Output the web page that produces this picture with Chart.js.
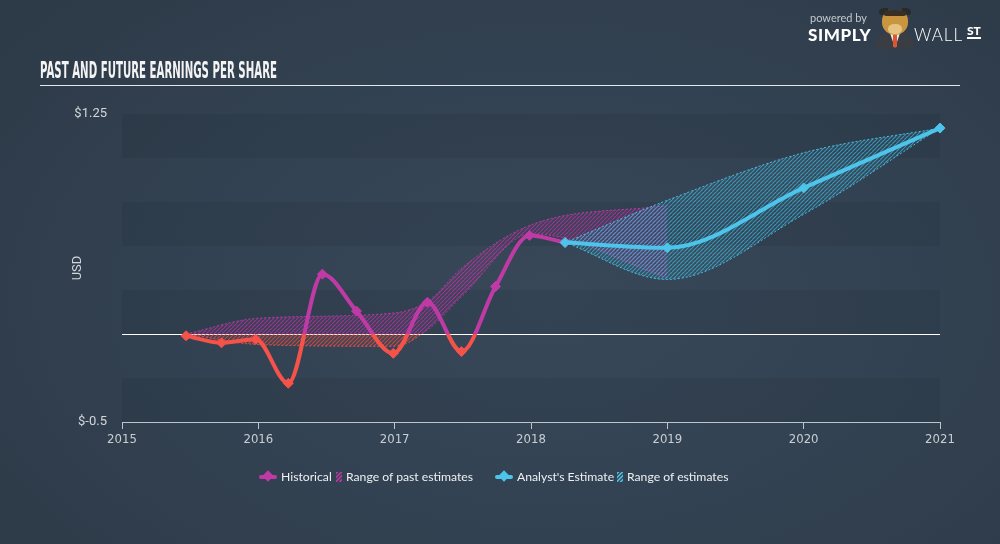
<!DOCTYPE html>
<html>
<head>
<meta charset="utf-8">
<script src="https://cdn.jsdelivr.net/npm/chart.js@4.4.1/dist/chart.umd.min.js"></script>
<style>
  html, body { margin: 0; padding: 0; }
  body {
    width: 1000px; height: 544px; overflow: hidden; position: relative;
    background: radial-gradient(ellipse 70% 80% at 55% 55%, #384858 0%, #334252 50%, #2d3a48 100%);
    font-family: Lato, "Open Sans", sans-serif; color: #fff;
  }
  #wrap { position: absolute; left: 0; top: 0; width: 1000px; height: 544px; }
  .title {
    position: absolute; left: 40px; top: 57px; white-space: nowrap;
    font-family: "Liberation Sans Narrow", "DejaVu Sans Condensed", "Liberation Sans", sans-serif;
    font-weight: bold; font-size: 23px; color: #f3f3f3; transform-origin: 0 0;
  }
  .rule { position: absolute; left: 40px; top: 85px; width: 920px; height: 1px; background: #e4e7ea; }
  .legend span { position: absolute; top: 469px; font-size: 12.2px; color: #eef0f2; white-space: nowrap; }
  .mark { position: absolute; top: 475px; width: 18px; height: 4px; border-radius: 2px; }
  .mark i { position: absolute; left: 5px; top: -3px; width: 8px; height: 8px; transform: rotate(45deg); background: inherit; }
  .hatch { position: absolute; top: 472px; width: 6px; height: 10px; }
  .logo { position: absolute; white-space: nowrap; }
</style>
</head>
<body>
<div id="wrap"><canvas id="epsChart" width="1000" height="544"></canvas></div>

<div class="title" id="title">PAST AND FUTURE EARNINGS PER SHARE</div>
<div class="rule"></div>

<div class="logo" style="left:810px; top:11px; font-size:11px; color:#c3c9cf;">powered by</div>
<div class="logo" style="left:808px; top:24px; font-size:17px; font-weight:900; letter-spacing:0.6px; color:#fff;">SIMPLY</div>
<div class="logo" style="left:914px; top:24px; font-size:17px; font-weight:300; letter-spacing:1px; color:#fff;">WALL</div>
<div class="logo" style="left:967px; top:24px; font-size:12px; font-weight:900; color:#fff; border-bottom:2px solid #fff; line-height:13px;">ST</div>
<!-- bull mascot -->
<div class="logo" style="left:876px; top:31px; width:38px; height:18px; background:#3a3e44; border-radius:16px 16px 3px 3px;"></div>
<div class="logo" style="left:890px; top:33px; width:10px; height:15px; background:#eeeeee; clip-path:polygon(0 0,100% 0,50% 100%);"></div>
<div class="logo" style="left:893px; top:35px; width:4px; height:12px; background:#e0552b;"></div>
<div class="logo" style="left:879px; top:8px; width:9px; height:7px; background:#2a2a2a; border-radius:60% 0 60% 40%;"></div>
<div class="logo" style="left:902px; top:8px; width:9px; height:7px; background:#2a2a2a; border-radius:0 60% 40% 60%;"></div>
<div class="logo" style="left:882px; top:10px; width:26px; height:25px; background:#c9953f; border-radius:42% 42% 50% 50%;"></div>
<div class="logo" style="left:884px; top:10px; width:22px; height:6px; background:#3a2f25; border-radius:40% 40% 20% 20%;"></div>
<div class="logo" style="left:888px; top:24px; width:14px; height:10px; background:#e6c283; border-radius:45%;"></div>

<div class="legend">
  <div class="mark" style="left:259px; background:#c03aa6;"><i></i></div>
  <span style="left:281px;">Historical</span>
  <div class="hatch" style="left:336px; background:repeating-linear-gradient(135deg, rgba(192,58,166,0.9) 0 1.5px, rgba(192,58,166,0.2) 1.5px 3px);"></div>
  <span style="left:346px;">Range of past estimates</span>
  <div class="mark" style="left:495px; background:#4dc4ea;"><i></i></div>
  <span style="left:517px;">Analyst's Estimate</span>
  <div class="hatch" style="left:617px; background:repeating-linear-gradient(135deg, rgba(77,196,234,0.9) 0 1.5px, rgba(77,196,234,0.2) 1.5px 3px);"></div>
  <span style="left:627px;">Range of estimates</span>
</div>

<script>
// historical EPS (fractional year, USD)
var histYears = [2015.47, 2015.73, 2015.98, 2016.22, 2016.47, 2016.72, 2016.99, 2017.24, 2017.49, 2017.74, 2017.99, 2018.25];
var histEps = [-0.01, -0.05, -0.03, -0.28, 0.34, 0.13, -0.11, 0.18, -0.10, 0.27, 0.56, 0.52];

// range of past estimates
var pastRangeYears = [2015.47, 2016.0, 2017.0, 2017.25, 2017.5, 2018.0, 2019.0];
var pastRangeHigh = [0, 0.09, 0.12, 0.19, 0.38, 0.62, 0.73];
var pastRangeLow = [0, -0.06, -0.07, 0.03, 0.22, 0.57, 0.32];

// analyst estimate and its range
var estYears = [2018.25, 2019, 2020, 2021];
var estEps = [0.52, 0.49, 0.83, 1.17];
var estHigh = [0.52, 0.76, 1.03, 1.17];
var estLow = [0.52, 0.31, 0.68, 1.17];

// axis labels
var yLabelValues = [1.25, -0.5];
var yLabelText = ['$1.25', '$-0.5'];

var purple = '#c03aa6';
var red = '#f5524a';
var blue = '#4dc4ea';

function points(xs, ys) {
    return xs.map(function(x, i) { return {x: x, y: ys[i]}; });
}

// vertical colour split at y = 0
function zeroSplit(ctx, above, below) {
    var chart = ctx.chart;
    var area = chart.chartArea;
    if (!area) {
        return above;
    }
    var y0 = chart.scales.y.getPixelForValue(0);
    var t = (y0 - area.top) / (area.bottom - area.top);
    var g = chart.ctx.createLinearGradient(0, area.top, 0, area.bottom);
    g.addColorStop(0, above);
    g.addColorStop(t, above);
    g.addColorStop(t, below);
    g.addColorStop(1, below);
    return g;
}

// diagonal hatch tile as tall as the canvas, so the colour can change at y = 0
var patterns = {};
function drawHatch(cx, p, h, top, bottom, line, tint) {
    cx.save();
    cx.beginPath();
    cx.rect(0, top, p, bottom - top);
    cx.clip();
    cx.fillStyle = tint;
    cx.fillRect(0, top, p, bottom - top);
    cx.strokeStyle = line;
    cx.lineWidth = 1.2;
    for (var k = 0; k <= h + p; k += p) {
        cx.beginPath();
        cx.moveTo(k, 0);
        cx.lineTo(k - h, h);
        cx.stroke();
    }
    cx.restore();
}

function hatch(ctx, above, below) {
    var chart = ctx.chart;
    if (!chart.chartArea) {
        return 'rgba(0,0,0,0)';
    }
    var h = chart.height;
    var y0 = chart.scales.y.getPixelForValue(0);
    var key = above.join() + below.join() + h + '_' + y0;
    if (patterns[key]) {
        return patterns[key];
    }
    var p = 4;
    var c = document.createElement('canvas');
    c.width = p;
    c.height = h;
    var cx = c.getContext('2d');
    drawHatch(cx, p, h, 0, y0, above[0], above[1]);
    drawHatch(cx, p, h, y0, h, below[0], below[1]);
    patterns[key] = chart.ctx.createPattern(c, 'repeat');
    return patterns[key];
}

var bandsPlugin = {
    id: 'bands',
    beforeDraw: function(chart) {
        var a = chart.chartArea;
        var y = chart.scales.y;
        var c = chart.ctx;
        c.save();
        c.fillStyle = 'rgba(10,20,30,0.09)';
        for (var v = y.min; v < y.max; v += 0.5) {
            var top = y.getPixelForValue(v + 0.25);
            var bottom = y.getPixelForValue(v);
            c.fillRect(a.left, top, a.right - a.left, bottom - top);
        }
        c.restore();
    }
};

var blueHatch = ['rgba(70,190,230,0.65)', 'rgba(70,190,230,0.08)'];
var purpleHatch = ['rgba(190,56,165,0.7)', 'rgba(190,56,165,0.1)'];
var redHatch = ['rgba(240,80,72,0.7)', 'rgba(240,80,72,0.1)'];

var canvas = document.getElementById('epsChart');

new Chart(canvas, {
    type: 'line',
    data: {
        datasets: [{
            label: "Analyst's Estimate",
            data: points(estYears, estEps),
            borderColor: blue,
            backgroundColor: blue,
            borderWidth: 4,
            pointStyle: 'rectRot',
            pointRadius: 5,
            pointBorderWidth: 1,
            pointBorderColor: blue,
            pointBackgroundColor: blue,
            cubicInterpolationMode: 'monotone',
            clip: false,
            order: 0
        }, {
            label: 'Historical',
            data: points(histYears, histEps),
            borderColor: function(ctx) { return zeroSplit(ctx, purple, red); },
            borderWidth: 4,
            pointStyle: 'rectRot',
            pointRadius: 5,
            pointBorderWidth: 1,
            pointBackgroundColor: function(ctx) { return ctx.raw && ctx.raw.y < -0.005 ? red : purple; },
            pointBorderColor: function(ctx) { return ctx.raw && ctx.raw.y < -0.005 ? red : purple; },
            cubicInterpolationMode: 'monotone',
            clip: false,
            order: 1
        }, {
            label: 'Range of estimates',
            data: points(estYears, estHigh),
            borderColor: 'rgba(77,196,234,0.9)',
            borderWidth: 1,
            borderDash: [2, 2],
            pointRadius: 0,
            cubicInterpolationMode: 'monotone',
            fill: '+1',
            backgroundColor: function(ctx) { return hatch(ctx, blueHatch, blueHatch); },
            order: 2
        }, {
            label: 'Range of estimates low',
            data: points(estYears, estLow),
            borderColor: 'rgba(77,196,234,0.9)',
            borderWidth: 1,
            borderDash: [2, 2],
            pointRadius: 0,
            cubicInterpolationMode: 'monotone',
            fill: false,
            order: 2
        }, {
            label: 'Range of past estimates',
            data: points(pastRangeYears, pastRangeHigh),
            borderColor: function(ctx) { return zeroSplit(ctx, 'rgba(192,58,166,0.9)', 'rgba(245,82,74,0.9)'); },
            borderWidth: 1,
            borderDash: [2, 2],
            pointRadius: 0,
            cubicInterpolationMode: 'monotone',
            fill: '+1',
            backgroundColor: function(ctx) { return hatch(ctx, purpleHatch, redHatch); },
            order: 3
        }, {
            label: 'Range of past estimates low',
            data: points(pastRangeYears, pastRangeLow),
            borderColor: function(ctx) { return zeroSplit(ctx, 'rgba(192,58,166,0.9)', 'rgba(245,82,74,0.9)'); },
            borderWidth: 1,
            borderDash: [2, 2],
            pointRadius: 0,
            cubicInterpolationMode: 'monotone',
            fill: false,
            order: 3
        }]
    },
    options: {
        responsive: false,
        animation: false,
        layout: {
            padding: {left: 62, right: 60, top: 114, bottom: 92}
        },
        plugins: {
            legend: {display: false},
            tooltip: {enabled: false}
        },
        scales: {
            x: {
                type: 'linear',
                min: 2015,
                max: 2021,
                ticks: {
                    stepSize: 1,
                    autoSkip: false,
                    maxRotation: 0,
                    padding: 3,
                    color: '#c9ced4',
                    font: {family: '"Liberation Sans Narrow", "DejaVu Sans Condensed", sans-serif', size: 13},
                    callback: function(value) { return String(value); }
                },
                grid: {
                    drawOnChartArea: false,
                    drawTicks: true,
                    tickLength: 7,
                    tickColor: '#bcc4cc'
                },
                border: {display: true, color: '#bcc4cc', width: 1},
                afterFit: function(scale) { scale.height = 30; }
            },
            y: {
                min: -0.5,
                max: 1.25,
                ticks: {
                    stepSize: 0.25,
                    padding: 15,
                    color: '#d3d7dc',
                    font: {family: 'Roboto, sans-serif', size: 13},
                    callback: function(value) {
                        var i = yLabelValues.indexOf(value);
                        return i >= 0 ? yLabelText[i] : '';
                    }
                },
                grid: {
                    drawTicks: false,
                    color: function(ctx) { return ctx.tick && ctx.tick.value === 0 ? '#ffffff' : 'rgba(0,0,0,0)'; },
                    lineWidth: 1
                },
                border: {display: false},
                title: {
                    display: true,
                    text: 'USD',
                    color: '#d3d7dc',
                    font: {family: 'Roboto, sans-serif', size: 13},
                    padding: {top: 8, bottom: 0}
                },
                afterFit: function(scale) { scale.width = 60; }
            }
        }
    },
    plugins: [bandsPlugin]
});

// squeeze the title to the condensed width of the original
var title = document.getElementById('title');
var w = title.getBoundingClientRect().width;
title.style.transform = 'scaleX(' + (237 / w) + ')';
</script>
</body>
</html>
